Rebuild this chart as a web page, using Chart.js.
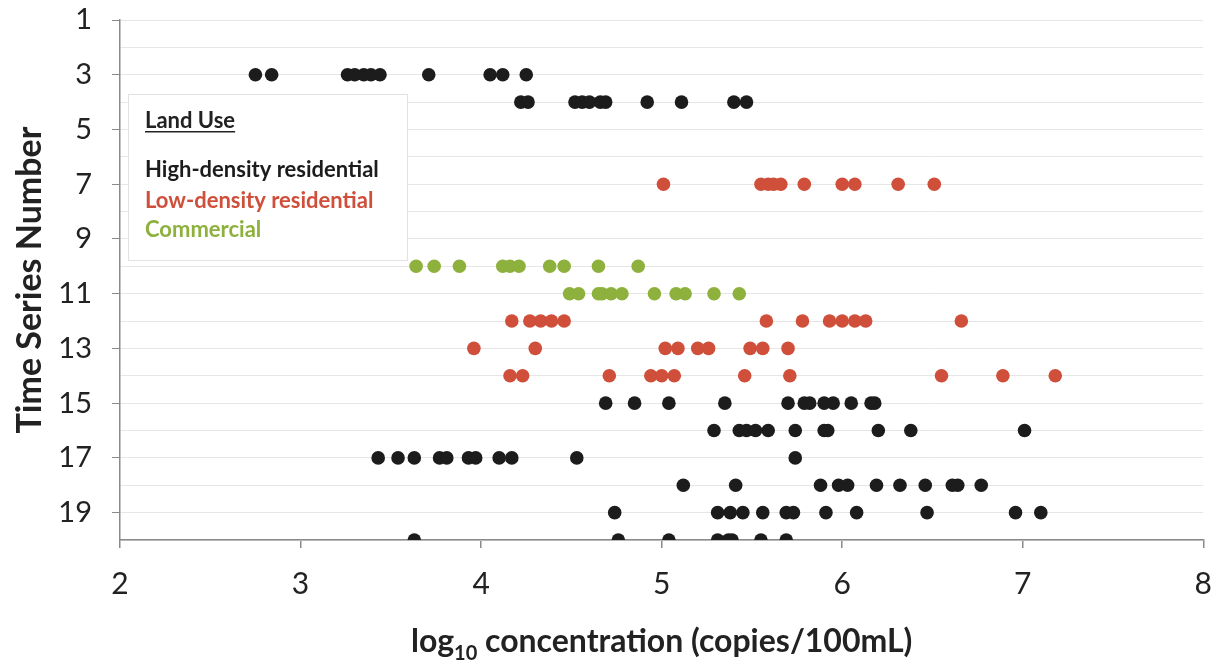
<!DOCTYPE html>
<html>
<head>
<meta charset="utf-8">
<script src="https://cdn.jsdelivr.net/npm/chart.js@4.4.1/dist/chart.umd.min.js"></script>
<style>
  body { margin: 0; background: #fff; }
  #wrap { width: 1230px; height: 670px; }
</style>
</head>
<body>
<div id="wrap"><canvas id="myChart" width="1230" height="670"></canvas></div>
<script>
// log10 concentration per time series, grouped by land use
const highDensity = [
    [3, [2.75, 2.84, 3.26, 3.30, 3.35, 3.39, 3.44, 3.71, 4.05, 4.12, 4.25]],
    [4, [4.22, 4.26, 4.52, 4.56, 4.60, 4.66, 4.69, 4.92, 5.11, 5.40, 5.47]],
    [15, [4.69, 4.85, 5.04, 5.35, 5.70, 5.79, 5.82, 5.90, 5.95, 6.05, 6.16, 6.18]],
    [16, [5.29, 5.43, 5.47, 5.52, 5.59, 5.74, 5.90, 5.92, 6.20, 6.38, 7.01]],
    [17, [3.43, 3.54, 3.63, 3.77, 3.81, 3.93, 3.97, 4.10, 4.17, 4.53, 5.74]],
    [18, [5.12, 5.41, 5.88, 5.98, 6.03, 6.19, 6.32, 6.46, 6.61, 6.64, 6.77]],
    [19, [4.74, 5.31, 5.38, 5.45, 5.56, 5.69, 5.73, 5.91, 6.08, 6.47, 6.96, 7.10]],
    [20, [3.63, 4.76, 5.04, 5.31, 5.37, 5.39, 5.55, 5.69]]
];
const lowDensity = [
    [7, [5.01, 5.55, 5.59, 5.62, 5.66, 5.79, 6.00, 6.07, 6.31, 6.51]],
    [12, [4.17, 4.27, 4.33, 4.39, 4.46, 5.58, 5.78, 5.93, 6.00, 6.07, 6.13, 6.66]],
    [13, [3.96, 4.30, 5.02, 5.09, 5.20, 5.26, 5.49, 5.56, 5.70]],
    [14, [4.16, 4.23, 4.71, 4.94, 5.00, 5.07, 5.46, 5.71, 6.55, 6.89, 7.18]]
];
const commercial = [
    [10, [3.64, 3.74, 3.88, 4.12, 4.16, 4.21, 4.38, 4.46, 4.65, 4.87]],
    [11, [4.49, 4.54, 4.65, 4.67, 4.72, 4.78, 4.96, 5.08, 5.13, 5.29, 5.43]]
];

const seriesNames = ['High-density residential', 'Low-density residential', 'Commercial'];
const seriesColors = ['#1c1c1c', '#cf4f3a', '#8db13c'];
const yTickLabels = [1, 3, 5, 7, 9, 11, 13, 15, 17, 19];

const FONT = 'Lato, "Open Sans", sans-serif';

function toPoints(rows) {
    const pts = [];
    rows.forEach(([ts, vals]) => {
        vals.forEach(v => pts.push({ x: v, y: ts }));
    });
    return pts;
}

// legend box + x title with a subscript
const extras = {
    id: 'extras',
    afterDraw(chart) {
        const c = chart.ctx;
        c.save();
        c.fillStyle = '#ffffff';
        c.fillRect(128, 94, 279, 166);
        c.strokeStyle = '#e2e2e2';
        c.lineWidth = 1;
        c.strokeRect(128.5, 94.5, 279, 166);

        c.textBaseline = 'alphabetic';
        c.textAlign = 'left';
        c.font = 'bold 22px ' + FONT;
        c.fillStyle = '#222';
        c.fillText('Land Use', 145, 128);
        const w = c.measureText('Land Use').width;
        c.fillRect(145, 131, w, 1.5);

        const ys = [177, 208, 237];
        seriesNames.forEach((name, i) => {
            c.fillStyle = seriesColors[i];
            c.fillText(name, 145, ys[i]);
        });

        // x axis title
        const area = chart.chartArea;
        const cx = (area.left + area.right) / 2;
        const base = 652;
        const big = 'bold 32px ' + FONT;
        const small = 'bold 20px ' + FONT;
        c.font = big;
        const w1 = c.measureText('log').width;
        const w3 = c.measureText(' concentration (copies/100mL)').width;
        c.font = small;
        const w2 = c.measureText('10').width;
        let x = cx - (w1 + w2 + w3) / 2;
        c.fillStyle = '#222';
        c.font = big;
        c.fillText('log', x, base);
        x += w1;
        c.font = small;
        c.fillText('10', x, base + 8);
        x += w2;
        c.font = big;
        c.fillText(' concentration (copies/100mL)', x, base);
        c.restore();
    }
};

const ctx = document.getElementById('myChart').getContext('2d');
const chart = new Chart(ctx, {
    type: 'scatter',
    data: {
        datasets: [highDensity, lowDensity, commercial].map((rows, i) => ({
            label: seriesNames[i],
            data: toPoints(rows),
            backgroundColor: seriesColors[i],
            borderWidth: 0,
            pointRadius: 6.8,
            pointHoverRadius: 6.8
        }))
    },
    options: {
        responsive: false,
        animation: false,
        layout: { padding: { top: 20, right: 20, left: 0, bottom: 0 } },
        plugins: {
            legend: { display: false },
            tooltip: { enabled: false }
        },
        scales: {
            x: {
                type: 'linear',
                min: 2,
                max: 8,
                afterFit: s => { s.height = 130; },
                ticks: {
                    stepSize: 1,
                    color: '#222',
                    font: { family: FONT, size: 30 },
                    padding: 18
                },
                grid: {
                    drawOnChartArea: false,
                    tickLength: 8,
                    tickColor: '#8a8a8a',
                    lineWidth: 1.5
                },
                border: { color: '#8a8a8a', width: 1.5 }
            },
            y: {
                type: 'linear',
                reverse: true,
                min: 1,
                max: 20,
                afterFit: s => {
                    s.width = 120;
                    s.paddingTop = 0;
                    s.paddingBottom = 0;
                },
                ticks: {
                    stepSize: 1,
                    autoSkip: false,
                    color: '#222',
                    font: { family: FONT, size: 29 },
                    padding: 20,
                    callback: v => yTickLabels.includes(v) ? String(v) : ''
                },
                grid: {
                    color: '#e6e6e6',
                    lineWidth: 1,
                    tickLength: 8,
                    tickColor: c => yTickLabels.includes(c.tick.value) ? '#8a8a8a' : 'rgba(0,0,0,0)'
                },
                border: { color: '#8a8a8a', width: 1.5 },
                title: {
                    display: true,
                    text: 'Time Series Number',
                    color: '#222',
                    font: { family: FONT, size: 34, weight: 'bold' },
                    padding: { top: 10, bottom: 0 }
                }
            }
        }
    },
    plugins: [extras]
});
</script>
</body>
</html>
